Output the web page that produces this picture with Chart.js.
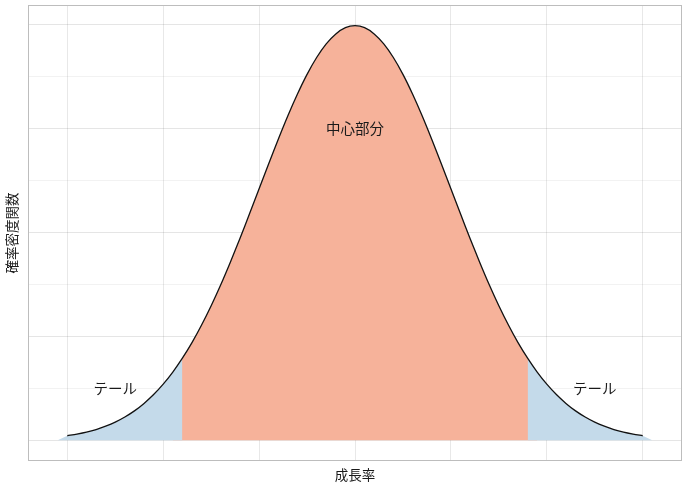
<!DOCTYPE html>
<html>
<head>
<meta charset="utf-8">
<script src="https://cdn.jsdelivr.net/npm/chart.js@4.4.1/dist/chart.umd.min.js"></script>
<style>
  html, body { margin: 0; padding: 0; background: #fff; }
  #wrap { width: 688px; height: 485px; }
</style>
</head>
<body>
<div id="wrap"><canvas id="density-chart" width="688" height="485"></canvas></div>
<script>
// growth rate (in standard deviations) and density
var growth = [-3.0, -2.9, -2.8, -2.7, -2.6, -2.5, -2.4, -2.3, -2.2, -2.1,
              -2.0, -1.9, -1.8, -1.7, -1.6, -1.5, -1.4, -1.3, -1.2, -1.1,
              -1.0, -0.9, -0.8, -0.7, -0.6, -0.5, -0.4, -0.3, -0.2, -0.1,
               0.0,  0.1,  0.2,  0.3,  0.4,  0.5,  0.6,  0.7,  0.8,  0.9,
               1.0,  1.1,  1.2,  1.3,  1.4,  1.5,  1.6,  1.7,  1.8,  1.9,
               2.0,  2.1,  2.2,  2.3,  2.4,  2.5,  2.6,  2.7,  2.8,  2.9, 3.0];
var density = [0.0044, 0.0060, 0.0079, 0.0104, 0.0136, 0.0175, 0.0224, 0.0283, 0.0355, 0.0440,
               0.0540, 0.0656, 0.0790, 0.0940, 0.1109, 0.1295, 0.1497, 0.1714, 0.1942, 0.2179,
               0.2420, 0.2661, 0.2897, 0.3123, 0.3332, 0.3521, 0.3683, 0.3814, 0.3910, 0.3970,
               0.3989, 0.3970, 0.3910, 0.3814, 0.3683, 0.3521, 0.3332, 0.3123, 0.2897, 0.2661,
               0.2420, 0.2179, 0.1942, 0.1714, 0.1497, 0.1295, 0.1109, 0.0940, 0.0790, 0.0656,
               0.0540, 0.0440, 0.0355, 0.0283, 0.0224, 0.0175, 0.0136, 0.0104, 0.0079, 0.0060, 0.0044];
var tailCut = [-1.8, 1.8];
var fillEnds = [-3.1, 3.1];

var xGrid = [-3, -2, -1, 0, 1, 2, 3];
var yGrid = [0, 0.05, 0.1, 0.15, 0.2, 0.25, 0.3, 0.35, 0.4];

var noteText = ['テール', '中心部分', 'テール'];
var noteX = [-2.5, 0, 2.5];
var noteY = [0.05, 0.3, 0.05];

var xTitle = '成長率';
var yTitle = '確率密度関数';

var pts = growth.map(function (g, i) { return { x: g, y: density[i] }; });
var eps = 1e-9;
var leftTail = [{ x: fillEnds[0], y: 0 }].concat(pts.filter(function (p) { return p.x <= tailCut[0] + eps; }));
var rightTail = pts.filter(function (p) { return p.x >= tailCut[1] - eps; }).concat([{ x: fillEnds[1], y: 0 }]);
// centre band reaches one step under each tail so the shared edge shows no seam
var middle = pts.filter(function (p) { return p.x >= tailCut[0] - 0.1 - eps && p.x <= tailCut[1] + 0.1 + eps; });

var FONT = "'Noto Sans CJK JP', 'Noto Sans', sans-serif";

var extras = {
  id: 'extras',
  afterDraw: function (chart) {
    var ctx = chart.ctx, a = chart.chartArea;
    var xs = chart.scales.x, ys = chart.scales.y;
    ctx.save();
    ctx.strokeStyle = '#bdbdbd';
    ctx.lineWidth = 1;
    ctx.strokeRect(a.left + 0.5, a.top + 0.5, a.right - a.left - 1, a.bottom - a.top - 1);
    ctx.fillStyle = '#1a1a1a';
    ctx.textAlign = 'center';
    ctx.textBaseline = 'middle';
    ctx.font = '14.5px ' + FONT;
    for (var i = 0; i < noteText.length; i++) {
      ctx.fillText(noteText[i], xs.getPixelForValue(noteX[i]), ys.getPixelForValue(noteY[i]));
    }
    ctx.font = '13.5px ' + FONT;
    ctx.fillText(xTitle, (a.left + a.right) / 2, 475);
    ctx.translate(12, (a.top + a.bottom) / 2);
    ctx.rotate(-Math.PI / 2);
    ctx.fillText(yTitle, 0, 0);
    ctx.restore();
  }
};

new Chart(document.getElementById('density-chart'), {
  type: 'line',
  data: {
    datasets: [
      { data: pts, fill: false, borderColor: '#111', borderWidth: 1.3, pointRadius: 0, tension: 0.3 },
      { data: leftTail, fill: 'origin', backgroundColor: '#c4daea', borderWidth: 0, pointRadius: 0 },
      { data: rightTail, fill: 'origin', backgroundColor: '#c4daea', borderWidth: 0, pointRadius: 0 },
      { data: middle, fill: 'origin', backgroundColor: '#f6b29a', borderWidth: 0, pointRadius: 0 }
    ]
  },
  options: {
    responsive: false,
    animation: false,
    devicePixelRatio: 1,
    layout: { padding: { left: 28, right: 6, top: 5, bottom: 24 } },
    plugins: { legend: { display: false }, tooltip: { enabled: false } },
    scales: {
      x: {
        type: 'linear', min: -3.41, max: 3.41, z: 1,
        afterBuildTicks: function (s) { s.ticks = xGrid.map(function (v) { return { value: v }; }); },
        ticks: { display: false },
        border: { display: false },
        grid: { color: 'rgba(0,0,0,0.09)', lineWidth: 1, drawTicks: false }
      },
      y: {
        type: 'linear', min: -0.0199, max: 0.4188, z: 1,
        afterBuildTicks: function (s) { s.ticks = yGrid.map(function (v) { return { value: v }; }); },
        ticks: { display: false },
        border: { display: false },
        grid: {
          drawTicks: false, lineWidth: 1,
          color: function (c) {
            var v = c.tick ? c.tick.value : 0;
            return Math.abs(Math.round(v * 10) - v * 10) < 1e-6 ? 'rgba(0,0,0,0.1)' : 'rgba(0,0,0,0.05)';
          }
        }
      }
    }
  },
  plugins: [extras]
});
</script>
</body>
</html>
